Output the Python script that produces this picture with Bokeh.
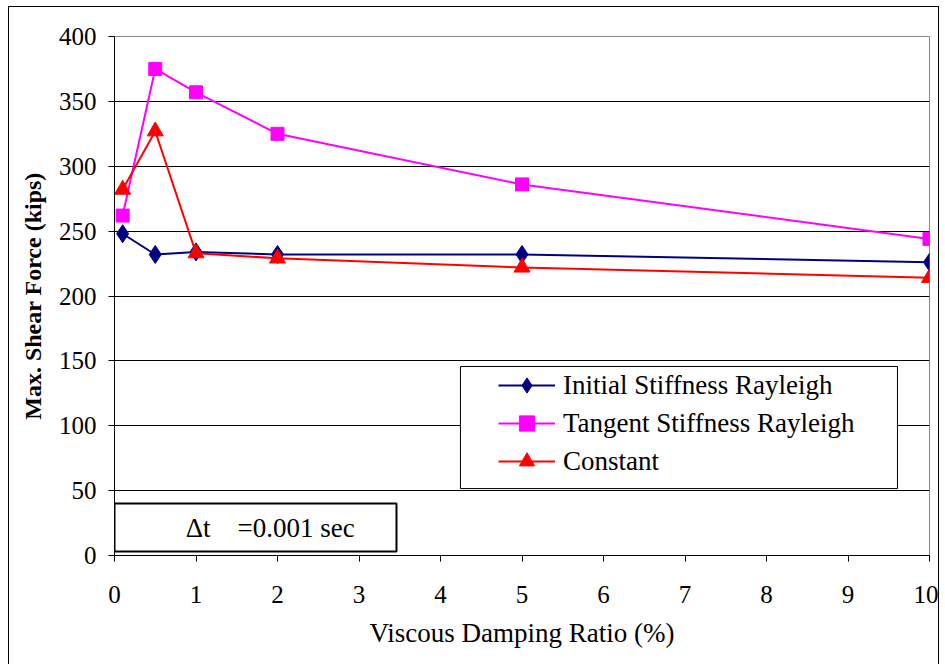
from bokeh.plotting import figure
from bokeh.models import Legend, LegendItem, Label, FixedTicker
from bokeh.embed import file_html
from bokeh.resources import INLINE

damping = [0.1, 0.5, 1, 2, 5, 10]
initial_rayleigh = [248, 232, 234, 232, 232, 226]
tangent_rayleigh = [262, 375, 357, 325, 286, 244]
constant = [282, 327, 233, 229, 222, 214]
x_ticks = list(range(0, 11))
y_ticks = list(range(0, 401, 50))

FONT = "Liberation Serif"
INK = "#000000"

p = figure(width=931, height=664, x_range=(0, 10), y_range=(0, 400),
           output_backend="svg", toolbar_location=None,
           min_border_left=105, min_border_right=11, min_border_top=29, min_border_bottom=116)
p.styles = {"margin-left": "8px", "margin-top": "6px", "border": "1px solid black"}

p.xaxis.major_label_text_font = FONT
p.yaxis.major_label_text_font = FONT
p.xaxis.major_label_text_font_size = "25px"
p.yaxis.major_label_text_font_size = "25px"
p.xaxis.major_label_text_color = INK
p.yaxis.major_label_text_color = INK
p.xaxis.axis_label = "Viscous Damping Ratio (%)"
p.xaxis.axis_label_text_font = FONT
p.xaxis.axis_label_text_font_size = "27px"
p.xaxis.axis_label_text_font_style = "normal"
p.xaxis.axis_label_text_color = INK
p.yaxis.axis_label = "Max. Shear Force (kips)"
p.yaxis.axis_label_text_font = FONT
p.yaxis.axis_label_text_font_size = "24px"
p.yaxis.axis_label_text_font_style = "bold"
p.yaxis.axis_label_text_color = INK

p.outline_line_color = "#888888"
p.outline_line_width = 1
p.xgrid.visible = False
p.ygrid.ticker = FixedTicker(ticks=y_ticks)
p.ygrid.grid_line_color = INK
p.ygrid.grid_line_width = 1

p.xaxis.ticker = FixedTicker(ticks=x_ticks)
p.yaxis.ticker = FixedTicker(ticks=y_ticks)
p.xaxis.axis_line_color = INK
p.yaxis.axis_line_color = INK
p.xaxis.major_tick_line_color = INK
p.yaxis.major_tick_line_color = INK
p.xaxis.major_tick_out = 6
p.yaxis.major_tick_out = 6
p.xaxis.major_tick_in = 0
p.yaxis.major_tick_in = 0
p.xaxis.minor_tick_line_color = None
p.yaxis.minor_tick_line_color = None
p.xaxis.major_label_standoff = 24
p.yaxis.major_label_standoff = 12
p.xaxis.axis_label_standoff = 12
p.yaxis.axis_label_standoff = 10

l1 = p.line(damping, initial_rayleigh, line_color="#000080", line_width=2)
m1 = p.scatter(damping, initial_rayleigh, marker="diamond", size=18, fill_color="#000080", line_color="#000080")
l2 = p.line(damping, tangent_rayleigh, line_color="#FF00FF", line_width=2)
m2 = p.scatter(damping, tangent_rayleigh, marker="square", size=13, fill_color="#FF00FF", line_color="#FF00FF")
l3 = p.line(damping, constant, line_color="#FF0000", line_width=2)
m3 = p.scatter(damping, constant, marker="triangle", size=16, fill_color="#FF0000", line_color="#FF0000")

# decorative boxes (legend frame and time-step note), drawn as plain glyphs
p.quad(left=[4.245], right=[9.607], bottom=[51.6], top=[145.7],
       fill_color="white", line_color=INK, line_width=1)
p.quad(left=[0], right=[3.46], bottom=[3], top=[40],
       fill_color="white", line_color=INK, line_width=2)

legend = Legend(items=[
    LegendItem(label="Initial Stiffness Rayleigh", renderers=[l1, m1]),
    LegendItem(label="Tangent Stiffness Rayleigh", renderers=[l2, m2]),
    LegendItem(label="Constant", renderers=[l3, m3]),
], location=(384, 75))
legend.label_text_font = FONT
legend.label_text_font_size = "27px"
legend.label_text_color = INK
legend.border_line_color = None
legend.background_fill_alpha = 0
legend.padding = 0
legend.margin = 0
legend.spacing = 0
legend.glyph_width = 57
legend.glyph_height = 38
legend.label_height = 38
legend.label_standoff = 8
p.add_layout(legend, "center")

lab = Label(x=1.91, y=21.5, text="\u0394t\u00a0\u00a0\u00a0\u00a0=0.001 sec", text_font=FONT,
            text_font_size="27px", text_align="center", text_baseline="middle", text_color=INK)
p.add_layout(lab)

open("out.html", "w").write(file_html(p, INLINE))
